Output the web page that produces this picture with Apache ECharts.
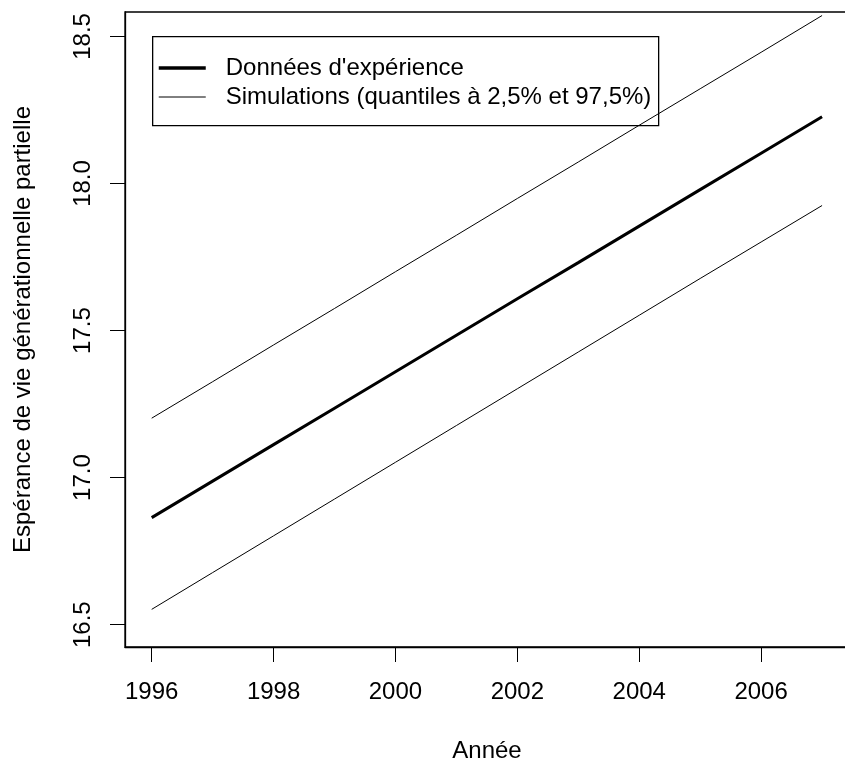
<!DOCTYPE html>
<html>
<head>
<meta charset="utf-8">
<script src="https://cdn.jsdelivr.net/npm/echarts@6/dist/echarts.min.js"></script>
<style>
html,body{margin:0;padding:0;background:#fff;}
#chart{width:845px;height:759px;}
</style>
</head>
<body>
<div id="chart"></div>
<script>
const years = [1996,1997,1998,1999,2000,2001,2002,2003,2004,2005,2006,2007];
const experience = [16.864,16.988,17.112,17.236,17.360,17.484,17.608,17.731,17.855,17.979,18.103,18.227];
const simUpper = [17.202,17.326,17.451,17.575,17.700,17.824,17.949,18.073,18.198,18.322,18.446,18.571];
const simLower = [16.552,16.677,16.802,16.927,17.052,17.177,17.302,17.427,17.552,17.677,17.801,17.925];
const xTicks = [1996,1998,2000,2002,2004,2006];
const yTicks = [16.5,17.0,17.5,18.0,18.5];
const nameExp = "Données d'expérience";
const nameSim = "Simulations (quantiles à 2,5% et 97,5%)";
const xTitle = "Année";
const yTitle = "Espérance de vie générationnelle partielle";

const FONT = "'Liberation Sans', Arial, sans-serif";
const pair = (xs, ys) => xs.map((x, i) => [x, ys[i]]);

const chart = echarts.init(document.getElementById('chart'), null, {renderer: 'canvas'});
chart.setOption({
  animation: false,
  backgroundColor: '#fff',
  textStyle: {fontFamily: FONT, color: '#000'},
  grid: {left: 125, top: 12, width: 724, height: 635, outerBoundsMode: 'none', containLabel: false,
    show: true, borderColor: '#000', borderWidth: 1.3, backgroundColor: 'transparent'},
  xAxis: {
    type: 'value', min: 1995.562, max: 2007.442,
    name: xTitle, nameLocation: 'middle', nameGap: 92,
    nameTextStyle: {fontFamily: FONT, fontSize: 24, color: '#000'},
    axisLine: {show: true, lineStyle: {color: '#000', width: 1.3}},
    axisTick: {show: true, length: 15, customValues: xTicks, lineStyle: {color: '#000', width: 1}},
    axisLabel: {customValues: xTicks, margin: 33, fontFamily: FONT, fontSize: 24, color: '#000',
      formatter: v => String(Math.round(v))},
    splitLine: {show: false}
  },
  yAxis: {
    type: 'value', min: 16.424, max: 18.583,
    name: yTitle, nameLocation: 'middle', nameGap: 90, nameRotate: 90,
    nameTextStyle: {fontFamily: FONT, fontSize: 24, color: '#000'},
    axisLine: {show: true, lineStyle: {color: '#000', width: 1.3}},
    axisTick: {show: true, length: 15, customValues: yTicks, lineStyle: {color: '#000', width: 1}},
    axisLabel: {customValues: yTicks, rotate: 90, margin: 30, fontFamily: FONT, fontSize: 24, color: '#000',
      formatter: v => Number(v).toFixed(1)},
    splitLine: {show: false}
  },
  legend: {
    orient: 'vertical', left: 157, top: 56, padding: 0,
    itemWidth: 47, itemHeight: 14, itemGap: 5,
    data: [{name: nameExp, lineStyle: {width: 3.5}}, {name: nameSim, lineStyle: {width: 1}}],
    itemStyle: {opacity: 0},
    textStyle: {fontFamily: FONT, fontSize: 24, color: '#000', padding: [0, 0, 0, 15]},
    selectedMode: false
  },
  graphic: [{
    type: 'rect', left: 152, top: 36, z: 100, silent: true,
    shape: {width: 506, height: 89},
    style: {fill: 'transparent', stroke: '#000', lineWidth: 1.3}
  }],
  series: [
    {name: nameExp, type: 'line', data: pair(years, experience), symbol: 'none',
      lineStyle: {color: '#000', width: 3}, itemStyle: {color: '#000'}},
    {name: nameSim, type: 'line', data: pair(years, simUpper), symbol: 'none',
      lineStyle: {color: '#000', width: 1}, itemStyle: {color: '#000'}},
    {name: nameSim, type: 'line', data: pair(years, simLower), symbol: 'none',
      lineStyle: {color: '#000', width: 1}, itemStyle: {color: '#000'}}
  ]
});
</script>
</body>
</html>
